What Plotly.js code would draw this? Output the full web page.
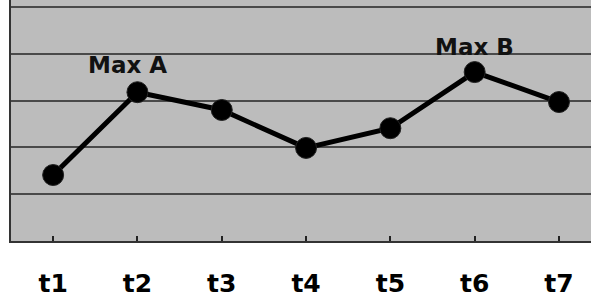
<!DOCTYPE html>
<html><head><meta charset="utf-8">
<script src="https://cdn.plot.ly/plotly-3.0.1.min.js"></script>
<style>html,body{margin:0;padding:0;background:#fff;}#chart{width:591px;height:303px;}</style>
</head><body><div id="chart"></div>
<script>
const categories = ["t1","t2","t3","t4","t5","t6","t7"];
const values = [1.41, 3.18, 2.80, 1.99, 2.41, 3.61, 2.97];
const peakLabels = ["Max A", "Max B"];
const peakIndex = [1, 5];

const trace = {
  x: categories, y: values, type: "scatter", mode: "lines+markers",
  line: {color: "#000", width: 5},
  marker: {color: "#000", size: 21, line: {color: "#222", width: 1}},
  hoverinfo: "skip"
};

const annotations = peakIndex.map((idx, k) => ({
  x: categories[idx], y: values[idx], xref: "x", yref: "y",
  text: peakLabels[k], showarrow: false,
  xshift: k === 0 ? -10 : 0, yshift: k === 0 ? 27 : 25,
  font: {family: "DejaVu Sans", size: 23, color: "#111", weight: "bold"}
}));

const layout = {
  width: 591, height: 303,
  margin: {l: 11, r: 0, t: 0, b: 62},
  paper_bgcolor: "#fff", plot_bgcolor: "#bcbcbc",
  showlegend: false,
  xaxis: {
    type: "category", range: [-0.5, 6.38],
    showgrid: false, zeroline: false,
    showline: true, linecolor: "#333", linewidth: 2,
    ticks: "inside", ticklen: 5, tickwidth: 2, tickcolor: "#222",
    ticklabelstandoff: 19,
    tickfont: {family: "DejaVu Sans", size: 25, color: "#000", weight: "bold"}
  },
  yaxis: {
    range: [0, 5.15], dtick: 1, tick0: 0,
    showticklabels: false, ticks: "",
    showgrid: true, gridcolor: "#4a4a4a", gridwidth: 2,
    zeroline: false,
    showline: true, linecolor: "#333", linewidth: 2
  },
  annotations: annotations
};

Plotly.newPlot("chart", [trace], layout, {staticPlot: true, displayModeBar: false});
</script></body></html>
